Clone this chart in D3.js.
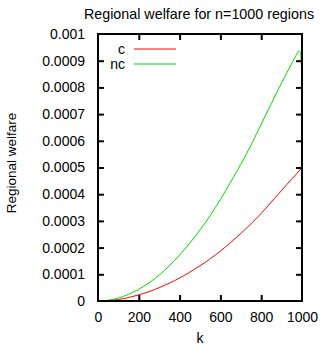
<!DOCTYPE html>
<html>
<head>
<meta charset="utf-8">
<script src="https://cdn.jsdelivr.net/npm/d3@7"></script>
<style>
  body { margin: 0; background: #fff; }
  svg text { font-family: "Liberation Sans", Arial, sans-serif; fill: #000; }
</style>
</head>
<body>
<div id="chart"></div>
<script>
// values
var kValues  = [0, 50, 100, 150, 200, 250, 300, 350, 400, 450, 500, 550, 600, 650, 700, 750, 800, 850, 900, 950, 965, 975, 985, 990, 995, 1000];
var cValues  = [0, 0.0000014, 0.0000055, 0.000013, 0.000023, 0.000035, 0.00005, 0.000067, 0.000086, 0.000108, 0.000132, 0.000158, 0.000187, 0.000219, 0.000253, 0.000289, 0.000328, 0.000371, 0.000414, 0.000457, 0.000469, 0.000478, 0.000487, 0.000491, 0.000496, 0.0005];
var ncValues = [0, 0.000003, 0.000011, 0.000025, 0.000044, 0.000068, 0.000097, 0.000132, 0.000172, 0.000217, 0.000266, 0.00032, 0.00038, 0.000445, 0.000512, 0.000584, 0.000662, 0.00074, 0.000817, 0.00089, 0.000912, 0.000926, 0.000937, 0.000934, 0.00091, 0.00082];
var seriesNames = ["c", "nc"];
var seriesColors = ["#ff0000", "#00dd00"];
var xTicks = [0, 200, 400, 600, 800, 1000];
var yTicks = [0, 0.0001, 0.0002, 0.0003, 0.0004, 0.0005, 0.0006, 0.0007, 0.0008, 0.0009, 0.001];

var W = 321, H = 345;
var mLeft = 98, mRight = 302, mTop = 34, mBottom = 301;

var x = d3.scaleLinear().domain([0, 1000]).range([mLeft, mRight]);
var y = d3.scaleLinear().domain([0, 0.001]).range([mBottom, mTop]);

var svg = d3.select("#chart").append("svg")
  .attr("width", W)
  .attr("height", H);

// curves (drawn first, frame goes over them)
var series = [cValues, ncValues];
var line = d3.line()
  .x(function(d, i) { return x(kValues[i]); })
  .y(function(d) { return y(d); })
  .curve(d3.curveMonotoneX);

series.forEach(function(vals, i) {
  svg.append("path")
    .attr("d", line(vals))
    .attr("fill", "none")
    .attr("stroke", seriesColors[i])
    .attr("stroke-width", 1);
});

// axes with inward ticks, mirrored on top and right
var fmtY = function(d) { return d === 0 ? "0" : d3.format(".4~f")(d); };

var gx = svg.append("g").attr("transform", "translate(0," + mBottom + ")")
  .call(d3.axisBottom(x).tickValues(xTicks).tickSizeInner(-6).tickSizeOuter(0).tickPadding(11).tickFormat(d3.format("d")));
var gxt = svg.append("g").attr("transform", "translate(0," + mTop + ")")
  .call(d3.axisTop(x).tickValues(xTicks).tickSizeInner(-6).tickSizeOuter(0).tickFormat(""));
var gy = svg.append("g").attr("transform", "translate(" + mLeft + ",0)")
  .call(d3.axisLeft(y).tickValues(yTicks).tickSizeInner(-6).tickSizeOuter(0).tickPadding(13).tickFormat(fmtY));
var gyr = svg.append("g").attr("transform", "translate(" + mRight + ",0)")
  .call(d3.axisRight(y).tickValues(yTicks).tickSizeInner(-6).tickSizeOuter(0).tickFormat(""));

[gx, gxt, gy, gyr].forEach(function(g) {
  g.select(".domain").remove();
  g.selectAll("line").attr("stroke", "#000").attr("stroke-width", 2);
  g.selectAll("text").attr("font-size", 14).attr("font-family", "Liberation Sans, Arial, sans-serif");
});
// remove ticks at the frame corners
gx.selectAll(".tick line").filter(function(d) { return d === 0 || d === 1000; }).remove();
gxt.selectAll(".tick line").filter(function(d) { return d === 0 || d === 1000; }).remove();
gy.selectAll(".tick line").filter(function(d) { return d === 0 || d === 0.001; }).remove();
gyr.selectAll(".tick line").filter(function(d) { return d === 0 || d === 0.001; }).remove();

svg.append("rect")
  .attr("x", mLeft).attr("y", mTop)
  .attr("width", mRight - mLeft).attr("height", mBottom - mTop)
  .attr("fill", "none")
  .attr("stroke", "#000")
  .attr("stroke-width", 2);

// legend
seriesNames.forEach(function(name, i) {
  var ly = 49 + i * 15;
  svg.append("text")
    .attr("x", 125).attr("y", ly + 5)
    .attr("text-anchor", "end")
    .attr("font-size", 14)
    .text(name);
  svg.append("line")
    .attr("x1", 134).attr("x2", 176)
    .attr("y1", ly).attr("y2", ly)
    .attr("stroke", seriesColors[i])
    .attr("stroke-width", 1);
});

// title and axis labels
svg.append("text")
  .attr("x", 199).attr("y", 19)
  .attr("text-anchor", "middle")
  .attr("font-size", 14.3)
  .text("Regional welfare for n=1000 regions");

svg.append("text")
  .attr("x", 200).attr("y", 343)
  .attr("text-anchor", "middle")
  .attr("font-size", 14)
  .text("k");

svg.append("text")
  .attr("transform", "translate(16,163) rotate(-90)")
  .attr("text-anchor", "middle")
  .attr("font-size", 13.5)
  .text("Regional welfare");
</script>
</body>
</html>
